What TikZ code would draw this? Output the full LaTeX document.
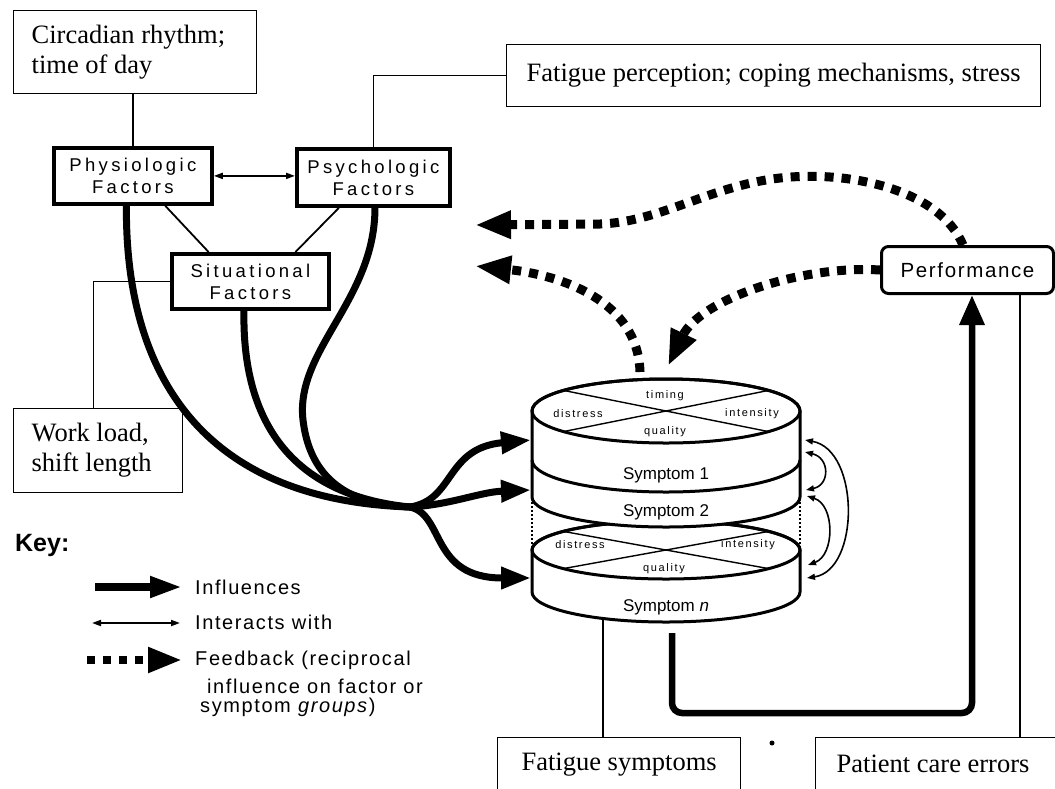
\documentclass[tikz,border=0pt]{standalone}
\usepackage{fontspec}
\setmainfont{Liberation Serif}
\setsansfont{Liberation Sans}
\newfontfamily\boxsans[LetterSpace=18]{Liberation Sans}
\newfontfamily\perfsans[LetterSpace=8]{Liberation Sans}
\newfontfamily\tinysans[LetterSpace=15]{Liberation Sans}
\newfontfamily\legsans[LetterSpace=8]{Liberation Sans}
\usetikzlibrary{arrows.meta,calc}
\begin{document}
\begin{tikzpicture}[x=1pt,y=-1pt,
  serifbox/.style={draw, line width=1.3pt, inner sep=0pt, font=\fontsize{26.5}{30}\selectfont},
  factorbox/.style={draw, line width=3.8pt, inner sep=0pt, align=center, anchor=north west, font=\boxsans\fontsize{18.5}{22}\selectfont},
  thinlink/.style={line width=1.3pt},
  medlink/.style={line width=1.8pt},
  interact/.style={line width=1.8pt, {Triangle[length=9pt,width=6pt]}-{Triangle[length=9pt,width=6pt]}},
  minor/.style={line width=1.6pt, {Triangle[length=8pt,width=6pt]}-{Triangle[length=8pt,width=6pt]}},
  influence/.style={line width=7pt, -{Triangle[length=30pt,width=21pt]}},
  influx/.style={line width=7pt},
  feedback/.style={line width=9pt, dash pattern=on 9pt off 8pt, -{Triangle[length=36pt,width=26pt]}},
  cyl/.style={line width=3pt},
  xline/.style={line width=1.4pt},
  tinylab/.style={font=\tinysans\fontsize{11}{12}\selectfont, inner sep=0pt},
  symlab/.style={font=\sffamily\fontsize{17}{19}\selectfont, inner sep=0pt},
  legtext/.style={font=\legsans\fontsize{20}{23}\selectfont, anchor=west, inner sep=0pt},
]
\clip (0,0) rectangle (1055,788);

% ---------- text boxes ----------
\node[serifbox, anchor=north west, minimum width=243pt, minimum height=83pt, text width=207pt, inner xsep=18pt, align=flush left] (circ) at (13,10) {Circadian rhythm;\\time of day};
\node[serifbox, anchor=north west, minimum width=534pt, minimum height=62pt] (fperc) at (506,44) {Fatigue perception; coping mechanisms, stress};
\node[serifbox, anchor=north west, minimum width=169pt, minimum height=84pt, text width=133pt, inner xsep=18pt, align=flush left] (work) at (13,408) {Work load,\\shift length};
\node[serifbox, anchor=north west, minimum width=243pt, minimum height=53pt] (fsym) at (497,737) {Fatigue symptoms};
\node[serifbox, anchor=north west, minimum width=260pt, minimum height=53pt, text width=218pt, inner xsep=21pt, align=flush left] (pce) at (815,737) {Patient care errors};

% ---------- factor boxes ----------
\node[factorbox, minimum width=158pt, minimum height=56pt] (phys) at (52,146) {Physiologic\\Factors};
\node[factorbox, minimum width=153pt, minimum height=57pt] (psych) at (295,147) {Psychologic\\Factors};
\node[factorbox, minimum width=157pt, minimum height=55pt] (sit) at (170,252) {Situational\\Factors};

\node[draw, line width=3pt, rounded corners=7pt, anchor=north west, minimum width=172pt, minimum height=47pt, inner sep=0pt, font=\perfsans\fontsize{20.5}{23}\selectfont] (perf) at (880,245) {Performance};

% ---------- thin connectors ----------
\draw[thinlink] (phys.north) -- (phys.north |- circ.south);
\draw[thinlink] (fperc.west) -| (psych.north);
\draw[thinlink] (sit.west) -| ($(work.north)+(-5,0)$);
\draw[interact] (phys.east) -- (phys.east -| psych.west);
\draw[medlink] ($(phys.south west)!0.7!(phys.south east)$) -- ($(sit.north west)!0.24!(sit.north east)$);
\draw[medlink] ($(psych.south west)!0.28!(psych.south east)$) -- ($(sit.north west)!0.78!(sit.north east)$);

% ---------- symptom cylinders ----------
% bottom disc (symptom n)
\filldraw[cyl, fill=white] (532,550) -- (532,592) arc[start angle=180, end angle=360, x radius=134pt, y radius=30pt] -- (800,550) arc[start angle=0, end angle=180, x radius=134pt, y radius=29pt] -- cycle;
\draw[cyl] (666,550) ellipse[x radius=134pt, y radius=29pt];
\draw[xline] (563.4,531.4) -- (768.6,568.6);
\draw[xline] (768.6,531.4) -- (563.4,568.6);
\node[tinylab] (dn) at (580,545) {distress};
\node[tinylab] (in) at (748,545) {intensity};
\node[tinylab] (qn) at (664,569) {quality};
\node[symlab] (sn) at (666,607) {Symptom \textit{n}};

% top stack (symptom 1 and 2)
\filldraw[cyl, fill=white] (532,411) -- (532,497) arc[start angle=180, end angle=360, x radius=134pt, y radius=30pt] -- (800,411) arc[start angle=0, end angle=180, x radius=134pt, y radius=32pt] -- cycle;
\draw[cyl] (666,411) ellipse[x radius=134pt, y radius=32pt];
\draw[cyl] (532,460) arc[start angle=180, end angle=360, x radius=134pt, y radius=32pt];
\draw[xline] (563.4,390.4) -- (768.6,431.6);
\draw[xline] (768.6,390.4) -- (563.4,431.6);
\node[tinylab] (t1) at (665,396) {timing};
\node[tinylab] (d1) at (578,414) {distress};
\node[tinylab] (i1) at (752,414) {intensity};
\node[tinylab] (q1) at (665,432) {quality};
\node[symlab] (s1) at (666,475) {Symptom 1};
\node[symlab] (s2) at (666,512) {Symptom 2};
\draw[line width=1.5pt, dash pattern=on 2pt off 2pt] (532,498) -- (532,550);
\draw[line width=1.5pt, dash pattern=on 2pt off 2pt] (800,498) -- (800,550);

% interaction arrows on the right of the cylinders
\coordinate (ra1) at (805,440); \coordinate (rb1) at (807,578);
\coordinate (ra2) at (805,452); \coordinate (rb2) at (806,490);
\coordinate (ra3) at (807,496); \coordinate (rb3) at (808,565);
\draw[minor] (ra1) .. controls (860,450) and (860,570) .. (rb1);
\draw[minor] (ra2) .. controls (830,458) and (830,485) .. (rb2);
\draw[minor] (ra3) .. controls (835,505) and (835,555) .. (rb3);

% ---------- influence curves ----------
\coordinate (hub) at (410,507);
\coordinate (s1in) at (531,440);
\coordinate (s2in) at (531,490);
\coordinate (snin) at (531,578);
\draw[influx] ($(phys.south west)!0.46!(phys.south east)$) .. controls (125,360) and (190,500) .. (hub);
\draw[influx] ($(sit.south west)!0.46!(sit.south east)$) .. controls (242,420) and (290,495) .. (hub);
\draw[influx] ($(psych.south west)!0.51!(psych.south east)$) .. controls (375,300) and (295,350) .. (303,420) .. controls (310,480) and (350,505) .. (hub);
\draw[influence] (hub) .. controls (455,500) and (445,448) .. (s1in);
\draw[influence] (hub) .. controls (450,505) and (480,492) .. (s2in);
\draw[influence] (hub) .. controls (445,515) and (430,578) .. (snin);

% ---------- performance path ----------
\coordinate (tstart) at (672,633);
\coordinate (perfbot) at ($(perf.south west)+(92,0)$);
\draw[line width=6.5pt, rounded corners=10pt, -{Triangle[length=30pt,width=24pt]}] (tstart) -- (672,713) -- (perfbot |- 0,713) -- (perfbot);
\coordinate (perfR) at ($(perf.south west)+(140,0)$);
\draw[thinlink] (perfR) -- (perfR |- pce.north);
\coordinate (cylbot) at (603,619);
\draw[thinlink] (cylbot) -- (cylbot |- fsym.north);
\fill (772,743) circle[radius=2.5pt];

% ---------- feedback arrows ----------
\coordinate (perftop) at ($(perf.north west)+(83,0)$);
\coordinate (fb1tip) at (475,225);
\draw[feedback] (perftop) .. controls (940,190) and (850,170) .. (780,178) .. controls (710,186) and (660,222) .. (600,224) -- (fb1tip);
\coordinate (cyltop) at (668,366);
\draw[feedback] (perf.west) .. controls (800,265) and (700,300) .. (cyltop);
\coordinate (cylstub) at (640,372);
\coordinate (fb2tip) at (475,266);
\draw[feedback] (cylstub) .. controls (638,300) and (560,275) .. (fb2tip);

% ---------- key ----------
\node[font=\sffamily\bfseries\fontsize{25}{28}\selectfont, anchor=base west, inner sep=0pt] (key) at (15,551) {Key:};
\coordinate (l1a) at (95,587); \coordinate (l1b) at (182,587);
\draw[line width=7.5pt, -{Triangle[length=32pt,width=20pt]}] (l1a) -- (l1b);
\node[legtext] (l1t) at (195,587) {Influences};
\coordinate (l2a) at (92,623); \coordinate (l2b) at (180,623);
\draw[interact] (l2a) -- (l2b);
\node[legtext] (l2t) at (195,622) {Interacts with};
\coordinate (l3a) at (87,660); \coordinate (l3b) at (182,660);
\draw[feedback, line width=8pt, dash pattern=on 8pt off 8pt, -{Triangle[length=34pt,width=24pt]}] (l3a) -- (l3b);
\node[legtext] (l3t) at (195,660) {Feedback (reciprocal};
\node[legtext] (l4t) at (207,686) {influence on factor or};
\node[legtext] (l5t) at (200,707) {symptom \textit{groups})};
\end{tikzpicture}
\end{document}
